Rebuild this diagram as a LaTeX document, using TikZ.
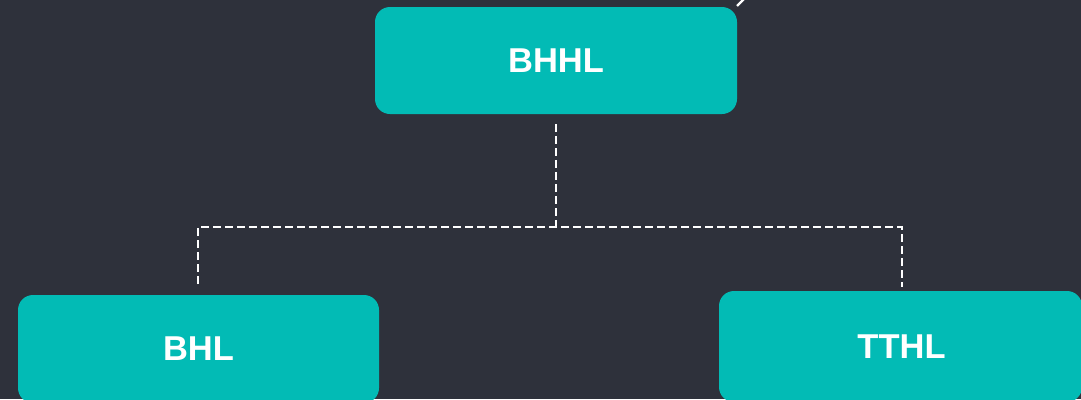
\documentclass[tikz,border=0pt]{standalone}
\usepackage{fontspec}
\setmainfont{Liberation Sans}
\definecolor{bg}{HTML}{2E313B}
\definecolor{teal}{HTML}{02BBB5}
\begin{document}
\begin{tikzpicture}[x=1pt,y=-1pt,
  card/.style={fill=teal, rounded corners=15pt},
  label/.style={text=white, inner sep=0pt, font=\fontsize{34.5}{38}\selectfont\bfseries},
  link/.style={draw=white, line width=2.2pt, dash pattern=on 8pt off 4pt}]
\useasboundingbox (0,0) rectangle (1081,399);
\clip (0,0) rectangle (1081,399);
\fill[bg] (0,0) rectangle (1081,399);
\fill[card] (375,7) rectangle (737,114);
\node[label] (top) at (556,61) {BHHL};
\fill[card] (18,295) rectangle (379,403);
\node[label] (left) at (198.5,349) {BHL};
\fill[card] (719,291) rectangle (1082,402);
\node[label] (right) at (901.5,347) {TTHL};
\coordinate (ts) at (556,124);
\coordinate (mid) at (556,227);
\coordinate (ls) at (198,284);
\coordinate (rs) at (902,287);
\draw[link] (ts) -- (mid);
\draw[link] (ls) -- (198,227) -- (902,227) -- (rs);
\coordinate (e1) at (737,6);
\coordinate (e2) at (744,-1);
\draw[white, line width=2.2pt] (e1) -- (e2);
\end{tikzpicture}
\end{document}
